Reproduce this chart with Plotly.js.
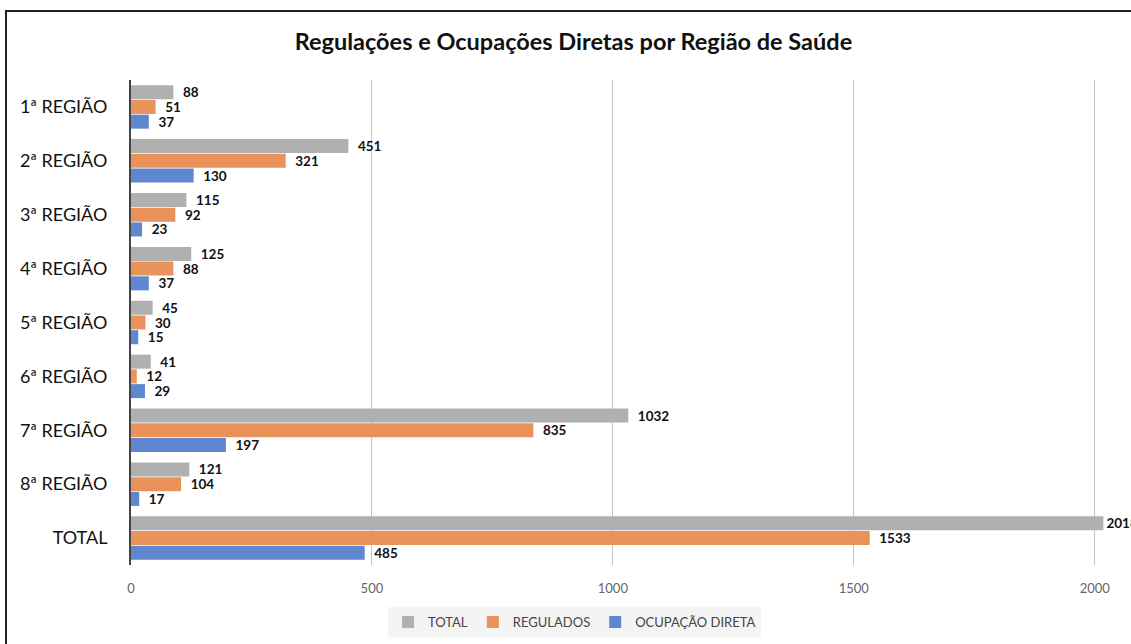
<!DOCTYPE html>
<html>
<head>
<meta charset="utf-8">
<script src="https://cdn.plot.ly/plotly-3.0.1.min.js"></script>
<style>
  html, body { margin: 0; padding: 0; background: #fff; overflow: hidden; }
  #chart { width: 1131px; height: 644px; }
  #frame { position: absolute; left: 5px; top: 10px; width: 2000px; height: 2000px;
           border: 2px solid #222; pointer-events: none; box-sizing: border-box; }
</style>
</head>
<body>
<div id="chart"></div>
<div id="frame"></div>
<script>
const categories = ["1ª REGIÃO", "2ª REGIÃO", "3ª REGIÃO", "4ª REGIÃO", "5ª REGIÃO",
                    "6ª REGIÃO", "7ª REGIÃO", "8ª REGIÃO", "TOTAL"];
const totalValues     = [88, 451, 115, 125, 45, 41, 1032, 121, 2018];
const reguladosValues = [51, 321, 92, 88, 30, 12, 835, 104, 1533];
const ocupacaoValues  = [37, 130, 23, 37, 15, 29, 197, 17, 485];
const seriesNames = ["TOTAL", "REGULADOS", "OCUPAÇÃO DIRETA"];
const xTicks = [0, 500, 1000, 1500, 2000];
const xMax = 2040;

const colors = ["#b0b0b0", "#e9925a", "#5f87cf"];
const font = "Lato, 'Open Sans', sans-serif";

function mk(vals, i) {
  return {
    type: "bar", orientation: "h",
    y: categories, x: vals, name: seriesNames[i],
    marker: { color: colors[i] },
    // labels near the right edge sit tight against the bar, as in the source
    text: vals.map(v => (v > 2000 ? "" : "\u00a0\u00a0") + v),
    textposition: "outside", cliponaxis: false, constraintext: "none",
    textfont: { family: font, size: 13.5, color: "#111", weight: "bold" },
    hoverinfo: "x+y"
  };
}
const data = [mk(totalValues, 0), mk(reguladosValues, 1), mk(ocupacaoValues, 2)];

const layout = {
  width: 1131, height: 644,
  margin: { l: 131, r: 17, t: 80, b: 79 },
  paper_bgcolor: "#fff", plot_bgcolor: "#fff",
  title: { text: "<b>Regulações e Ocupações Diretas por Região de Saúde</b>",
           font: { family: font, size: 23.5, color: "#111" },
           xref: "container", x: 0.507, xanchor: "center", yref: "container", y: 0.935, yanchor: "middle" },
  barmode: "group", bargap: 0.18, bargroupgap: 0.05,
  xaxis: { range: [0, xMax], tickvals: xTicks, ticktext: xTicks.map(String),
           showgrid: true, gridcolor: "#c4c4c4", gridwidth: 1, zeroline: false,
           showline: false, ticks: "", layer: "above traces",
           tickfont: { family: font, size: 13, color: "#666" }, ticklabelstandoff: 14 },
  yaxis: { autorange: "reversed", showgrid: false, zeroline: false,
           showline: true, linecolor: "#444", linewidth: 2, ticks: "",
           tickfont: { family: font, size: 18, color: "#111" }, ticklabelstandoff: 18 },
  legend: { orientation: "h", xref: "container", x: 0.508, xanchor: "center", yref: "container", y: 0.034, yanchor: "middle",
            bgcolor: "#f4f4f4", font: { family: font, size: 13, color: "#444" },
            traceorder: "normal", itemwidth: 30 },
  showlegend: true
};
Plotly.newPlot("chart", data, layout, { displayModeBar: false, staticPlot: true });
</script>
</body>
</html>
